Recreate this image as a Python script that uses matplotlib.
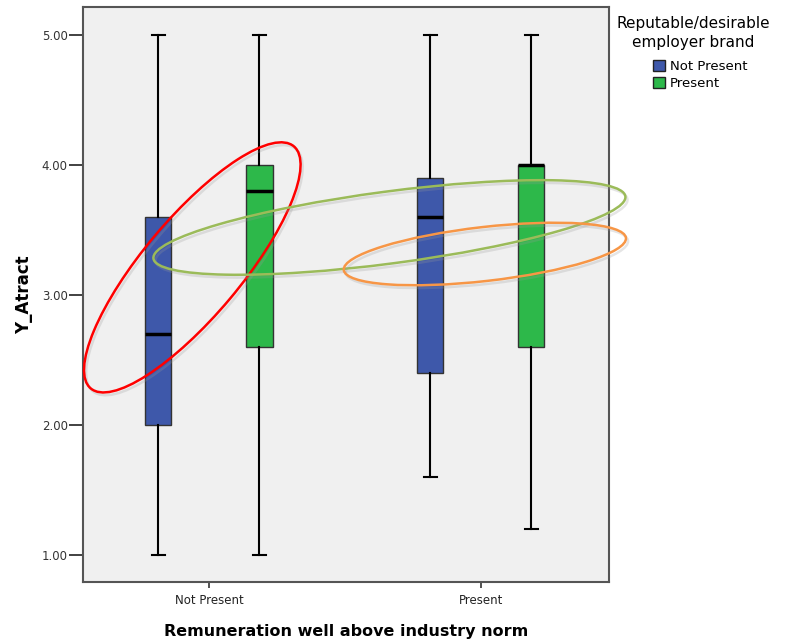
import matplotlib
matplotlib.use('Agg')
import matplotlib.pyplot as plt
from matplotlib.patches import Ellipse, Patch
from matplotlib.transforms import ScaledTranslation
import matplotlib.patheffects as pe

# x groups: Remuneration well above industry norm
groups = ['Not Present', 'Present']
# hue: Reputable/desirable employer brand
brand = ['Not Present', 'Present']
brand_colors = ['#3e58aa', '#2db84a']

# five-number summaries per (group, brand): whislo, q1, med, q3, whishi
whislo = [[1.0, 1.0], [1.6, 1.2]]
q1 = [[2.0, 2.6], [2.4, 2.6]]
med = [[2.7, 3.8], [3.6, 4.0]]
q3 = [[3.6, 4.0], [3.9, 4.0]]
whishi = [[5.0, 5.0], [5.0, 5.0]]

yticks = [1.0, 2.0, 3.0, 4.0, 5.0]

# hand-drawn highlight ellipses (centre in data units, size in inches, angle)
ell_colors = ['#ff0000', '#9bbb59', '#f79646']
ell_centres = [(-0.061, 3.212), (0.664, 3.519), (1.015, 3.315)]
ell_sizes = [(3.16, 0.98), (4.76, 0.72), (2.84, 0.54)]
ell_angles = [50, 7.5, 6.5]

fig = plt.figure(figsize=(7.86, 6.42), dpi=100)
ax = fig.add_axes([0.1056, 0.0935, 0.669, 0.8956])
ax.set_facecolor('#f0f0f0')

offset = 0.186
width = 0.096
for gi in range(len(groups)):
    for bi in range(len(brand)):
        stats = [dict(whislo=whislo[gi][bi], q1=q1[gi][bi], med=med[gi][bi],
                      q3=q3[gi][bi], whishi=whishi[gi][bi], fliers=[])]
        pos = gi + (bi - 0.5) * 2 * offset
        ax.bxp(stats, positions=[pos], widths=width, capwidths=0.048,
               showfliers=False, patch_artist=True,
               boxprops=dict(facecolor=brand_colors[bi], edgecolor='#333333', linewidth=1),
               medianprops=dict(color='black', linewidth=2.5),
               whiskerprops=dict(color='black', linewidth=1.5),
               capprops=dict(color='black', linewidth=1.5), zorder=2)

ax.set_xlim(-0.463, 1.471)
ax.set_ylim(0.792, 5.215)
ax.set_xticks(range(len(groups)))
ax.set_xticklabels(groups, fontsize=8.5, color='#222222')
ax.set_yticks(yticks)
ax.set_yticklabels(['%.2f' % v for v in yticks], fontsize=8.5, color='#333333')
ax.tick_params(axis='y', length=10, width=1.3, color='#333333', direction='out', pad=1)
ax.tick_params(axis='x', length=4, width=1.2, color='#333333', direction='out', pad=5)
for s in ax.spines.values():
    s.set_color('#555555')
    s.set_linewidth(1.5)

ax.set_ylabel('Y_Atract', fontsize=12, fontweight='bold', labelpad=6)
ax.set_xlabel('Remuneration well above industry norm', fontsize=11.5,
              fontweight='bold', labelpad=12)

for c, (cx, cy), (w, h), a in zip(ell_colors, ell_centres, ell_sizes, ell_angles):
    tr = fig.dpi_scale_trans + ScaledTranslation(cx, cy, ax.transData)
    e = Ellipse((0, 0), w, h, angle=a, transform=tr, fill=False,
                edgecolor=c, linewidth=1.8, zorder=5, clip_on=False)
    e.set_path_effects([pe.SimpleLineShadow(offset=(1.5, -2), shadow_color='#999999', alpha=0.25),
                        pe.Normal()])
    ax.add_patch(e)

fig.text(0.882, 0.975, 'Reputable/desirable\nemployer brand', ha='center', va='top',
         fontsize=11, multialignment='center', linespacing=1.3)
handles = [Patch(facecolor=brand_colors[i], edgecolor='#222222', label=brand[i])
           for i in range(len(brand))]
fig.legend(handles=handles, loc='upper left', bbox_to_anchor=(0.831, 0.906), frameon=False,
           fontsize=9.5, handlelength=0.9, handleheight=0.9,
           handletextpad=0.35, labelspacing=0.25, borderpad=0.0, borderaxespad=0.0)

fig.savefig('out.png', dpi=100)
